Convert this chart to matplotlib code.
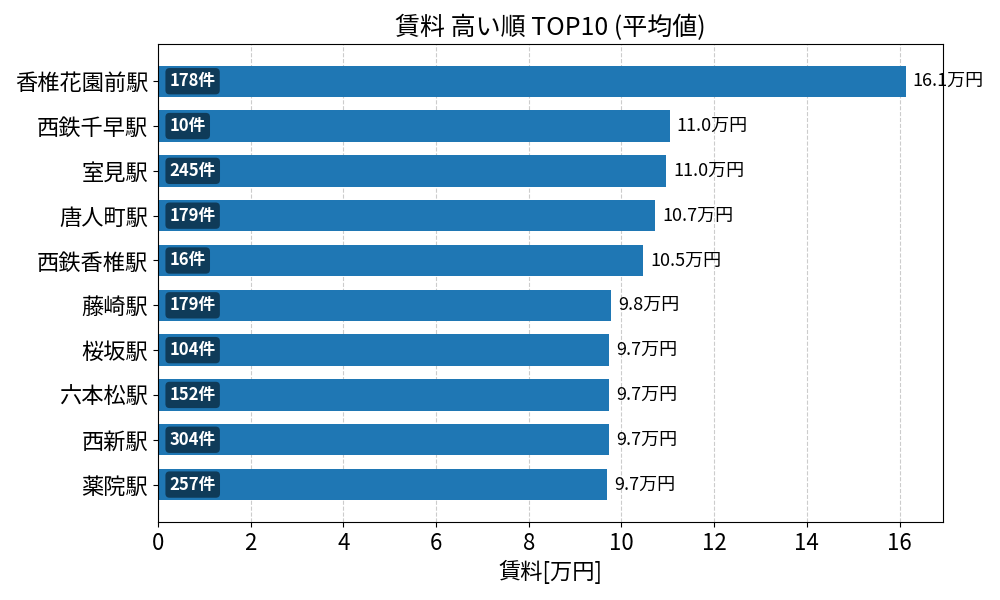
import numpy as np
import matplotlib
matplotlib.use('Agg')
import matplotlib.pyplot as plt

plt.rcParams['font.family'] = ['Noto Sans CJK JP', 'DejaVu Sans']

# 駅ごとの平均賃料（万円）と件数
stations = ['香椎花園前駅', '西鉄千早駅', '室見駅', '唐人町駅', '西鉄香椎駅',
            '藤崎駅', '桜坂駅', '六本松駅', '西新駅', '薬院駅']
rent = [16.13, 11.04, 10.97, 10.73, 10.47, 9.78, 9.74, 9.73, 9.73, 9.69]
counts = [178, 10, 245, 179, 16, 179, 104, 152, 304, 257]

fig, ax = plt.subplots(figsize=(10, 6), dpi=100)

y = np.arange(len(stations))
bars = ax.barh(y, rent, height=0.7, color='#1f77b4', zorder=2)
ax.set_yticks(y)
ax.set_yticklabels(stations, fontsize=16)
ax.invert_yaxis()

ax.set_xlim(0, max(rent) * 1.05)
ax.tick_params(axis='x', labelsize=16)
ax.grid(axis='x', linestyle='--', color='#cccccc', linewidth=0.8, zorder=0)
ax.set_axisbelow(True)

for i, (v, n) in enumerate(zip(rent, counts)):
    ax.text(v + 0.15, i, f'{v:.1f}万円', va='center', ha='left', fontsize=13)
    ax.text(0.25, i, f'{n}件', va='center', ha='left', fontsize=12,
            color='white', fontweight='bold',
            bbox=dict(boxstyle='round,pad=0.25', facecolor='black',
                      alpha=0.5, edgecolor='none'))

ax.set_xlabel('賃料[万円]', fontsize=16)
ax.set_title('賃料 高い順 TOP10 (平均値)', fontsize=18)

plt.subplots_adjust(left=0.158, right=0.943, top=0.927, bottom=0.13)
plt.savefig('out.png')
